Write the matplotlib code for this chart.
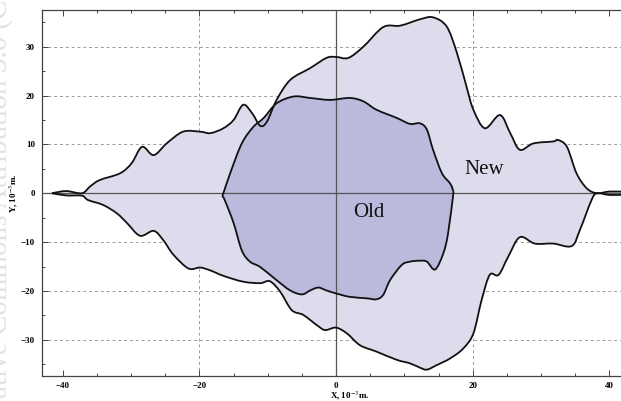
import numpy as np
import matplotlib
matplotlib.use('Agg')
import matplotlib.pyplot as plt
from matplotlib.path import Path
from matplotlib.patches import PathPatch
from matplotlib.ticker import MultipleLocator

# "New" region, upper boundary (x, y) in 10^-3 m
new_up_x = [-41.6, -39.5, -37.2, -36.0, -34.6, -31.6, -29.9, -28.4, -26.7, -24.8, -22.4, -19.9, -18.4,
            -16.5, -15.0, -13.6, -12.3, -11.1, -10.1, -8.7, -6.7, -3.8, -1.4, 0.0, 1.8, 4.0, 6.9, 9.4,
            12.3, 14.2, 16.2, 17.7, 19.1, 20.1, 21.8, 24.0, 25.5, 26.9, 28.9, 31.8, 32.5, 33.8, 35.2,
            36.7, 38.2, 40.0, 42.3]
new_up_y = [0.0, 0.45, 0.0, 1.4, 2.7, 4.1, 6.2, 9.5, 7.8, 10.2, 12.6, 12.6, 12.3,
            13.3, 15.0, 18.1, 16.4, 13.8, 14.7, 19.1, 23.2, 25.6, 27.7, 27.9, 27.7, 30.0, 34.0, 34.3,
            35.6, 36.0, 34.1, 28.7, 21.8, 17.1, 13.3, 16.0, 12.3, 8.9, 10.2, 10.6, 10.9, 9.5, 4.1,
            1.0, 0.0, 0.35, 0.3]
# "New" region, lower boundary
new_lo_x = [-41.6, -39.5, -37.2, -36.3, -34.1, -32.1, -30.6, -28.7, -26.7, -25.3, -23.8, -21.6, -19.9,
            -18.4, -16.5, -13.6, -11.1, -9.7, -8.2, -6.5, -4.8, -2.8, -1.6, 0.0, 1.6, 3.5, 5.9, 8.9,
            10.8, 12.3, 13.3, 14.7, 16.7, 18.6, 20.1, 21.3, 22.5, 23.8, 25.2, 26.9, 29.1, 31.8, 34.5,
            35.7, 37.4, 38.2, 40.0, 42.3]
new_lo_y = [0.0, -0.45, -0.5, -1.4, -2.4, -4.1, -6.1, -8.7, -7.7, -9.6, -12.6, -15.4, -15.2,
            -15.8, -16.9, -18.1, -18.4, -18.0, -20.1, -23.9, -24.9, -27.0, -28.0, -27.5, -28.7, -31.1, -32.4, -34.1,
            -34.8, -35.7, -36.1, -35.2, -33.8, -31.8, -28.7, -21.9, -16.7, -16.7, -13.0, -9.0, -10.3, -10.3, -10.8,
            -7.5, -1.4, 0.0, -0.35, -0.3]

# "Old" region, upper boundary
old_up_x = [-16.7, -16.5, -15.5, -13.8, -12.1, -10.6, -8.7, -6.2, -3.8, -0.9, 2.0, 4.0, 5.9, 8.9,
            10.8, 12.3, 13.3, 14.2, 15.5, 16.7, 17.2]
old_up_y = [-0.5, 0.0, 4.1, 10.2, 13.6, 15.4, 18.4, 19.8, 19.5, 19.1, 19.5, 18.8, 17.1, 15.4,
            14.2, 14.3, 13.0, 8.9, 4.1, 2.0, 0.3]
# "Old" region, lower boundary
old_lo_x = [-16.7, -16.3, -15.0, -13.8, -12.6, -11.1, -8.7, -6.7, -5.0, -3.8, -2.6, -1.4, 0.0, 2.0,
            4.5, 5.9, 6.9, 7.9, 9.6, 10.8, 12.3, 13.3, 14.5, 15.7, 16.4, 17.2]
old_lo_y = [-0.5, -1.4, -6.1, -11.7, -14.0, -15.1, -17.8, -19.9, -20.7, -19.9, -19.3, -19.9, -20.5, -21.2,
            -21.5, -21.7, -20.8, -17.8, -14.7, -14.0, -13.8, -14.0, -15.6, -12.3, -8.2, 0.3]

labels = ['New', 'Old']
label_pos = [(21.7, 4.8), (4.8, -4.0)]


def smooth_path(xs, ys, closed=False):
    # Catmull-Rom through the read points, drawn as cubic Bezier segments
    p = np.column_stack([xs, ys]).astype(float)
    n = len(p)
    verts = [p[0]]
    codes = [Path.MOVETO]
    for i in range(n - 1):
        p0 = p[i - 1] if i > 0 else p[i]
        p3 = p[i + 2] if i + 2 < n else p[i + 1]
        c1 = p[i] + (p[i + 1] - p0) / 6.0
        c2 = p[i + 1] - (p3 - p[i]) / 6.0
        verts += [c1, c2, p[i + 1]]
        codes += [Path.CURVE4] * 3
    if closed:
        verts.append(p[0])
        codes.append(Path.CLOSEPOLY)
    return Path(np.array(verts), codes)


plt.rcParams['font.family'] = ['Liberation Serif', 'DejaVu Serif']
plt.rcParams['mathtext.fontset'] = 'stix'

fig = plt.figure(figsize=(6.21, 4.01), dpi=100)
ax = fig.add_axes([42/621, 25/401, 583/621, 366/401])

ax.set_xlim(-43.05, 42.3)
ax.set_ylim(-37.4, 37.5)

# grid (dashed) and axis lines
for gx in [-20, 20]:
    ax.axvline(gx, color='#9a9a9a', lw=0.7, ls=(0, (3, 3)), zorder=0)
for gy in [-30, -20, -10, 10, 20, 30]:
    ax.axhline(gy, color='#9a9a9a', lw=0.7, ls=(0, (3, 3)), zorder=0)

new_outline = smooth_path(new_up_x + new_lo_x[::-1][1:-1], new_up_y + new_lo_y[::-1][1:-1], closed=True)
ax.add_patch(PathPatch(new_outline, facecolor='#dcdcec', edgecolor='none', zorder=1))
old_outline = smooth_path(old_up_x + old_lo_x[::-1][1:-1], old_up_y + old_lo_y[::-1][1:-1], closed=True)
ax.add_patch(PathPatch(old_outline, facecolor='#bbb9dc', edgecolor='none', zorder=2))

ax.axhline(0, color='#555555', lw=0.9, zorder=3)
ax.axvline(0, color='#555555', lw=0.9, zorder=3)

for xs, ys, z in [(new_up_x, new_up_y, 4), (new_lo_x, new_lo_y, 4),
                  (old_up_x, old_up_y, 5), (old_lo_x, old_lo_y, 5)]:
    ax.add_patch(PathPatch(smooth_path(xs, ys), facecolor='none', edgecolor='#111111', lw=1.3, zorder=z))

for lab, (lx, ly) in zip(labels, label_pos):
    ax.text(lx, ly, lab, fontsize=15, ha='center', va='center', color='#111111', zorder=6)

ax.xaxis.set_major_locator(MultipleLocator(20))
ax.xaxis.set_minor_locator(MultipleLocator(5))
ax.yaxis.set_major_locator(MultipleLocator(10))
ax.yaxis.set_minor_locator(MultipleLocator(5))
ax.tick_params(which='both', direction='in', top=True, right=False, color='#444444', width=0.7)
ax.tick_params(which='major', length=4)
ax.tick_params(which='minor', length=2)
ax.tick_params(axis='x', pad=4)
ax.tick_params(axis='y', pad=5)
ax.xaxis.set_major_formatter(plt.FuncFormatter(lambda v, p: f'{int(v)}'.replace('-', '\u2212')))
ax.yaxis.set_major_formatter(plt.FuncFormatter(lambda v, p: f'{int(v)}'.replace('-', '\u2212')))
for lbl in ax.get_xticklabels() + ax.get_yticklabels():
    lbl.set_fontweight('bold')
    lbl.set_fontsize(6.5)

for s in ['left', 'bottom', 'top']:
    ax.spines[s].set_color('#444444')
    ax.spines[s].set_linewidth(0.9)
ax.spines['right'].set_visible(False)

ax.set_xlabel(r'X, 10$^{-3}$m.', fontsize=6.5, fontweight='bold')
ax.xaxis.set_label_coords(0.528, -0.037)
ax.set_ylabel(r'Y, 10$^{-3}$m.', fontsize=6.5, fontweight='bold')
ax.yaxis.set_label_coords(-0.038, 0.5)

# faint watermark along left edge, mostly outside the picture
fig.text(7/621, 1.05, 'Creative Commons Attribution 3.0 (CC', rotation=90, rotation_mode='anchor',
         ha='right', va='baseline', fontsize=21, color='#e2e2e2', zorder=0)

fig.savefig('out.png', dpi=100)
